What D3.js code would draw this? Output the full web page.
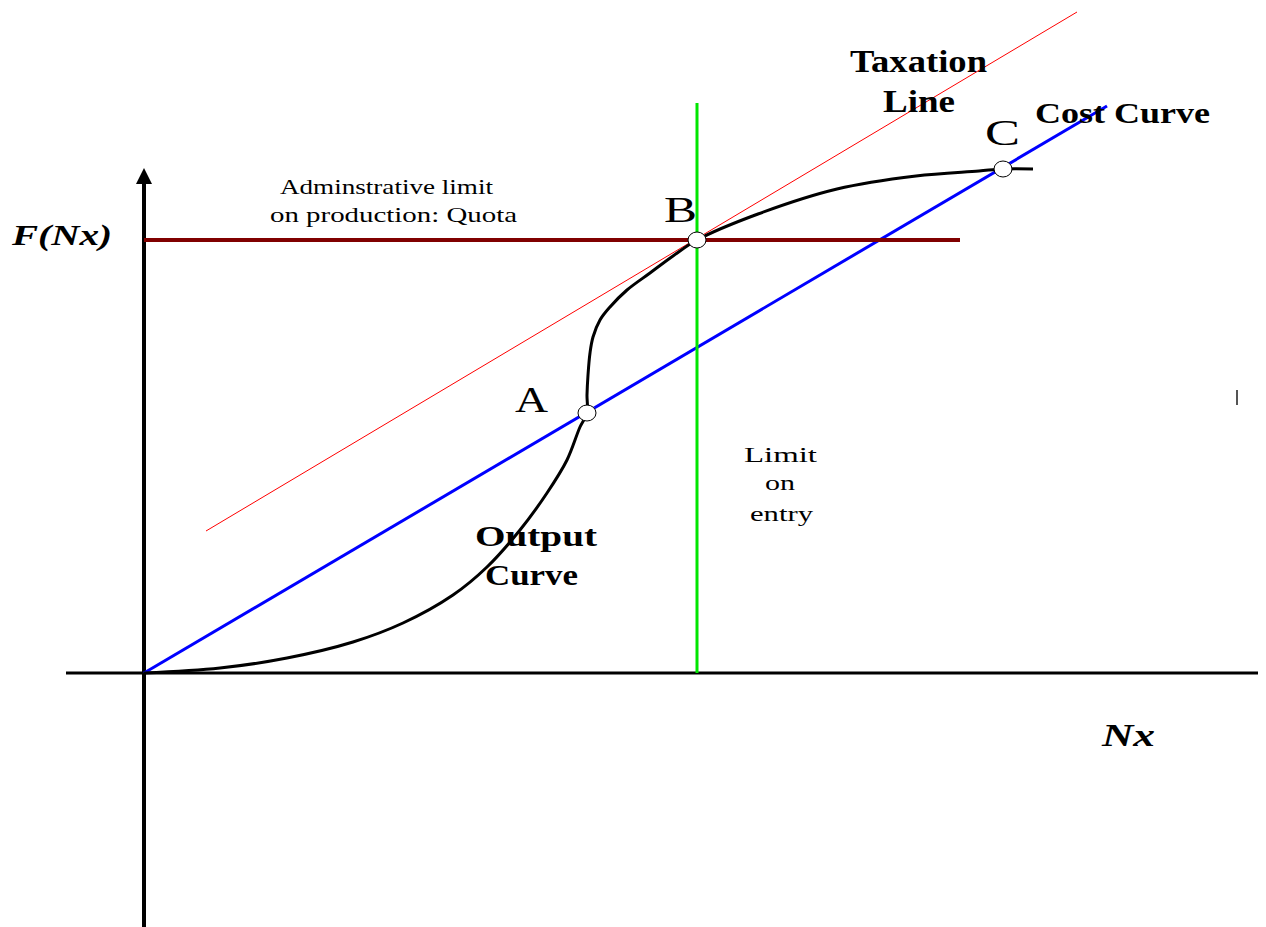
<!DOCTYPE html>
<html>
<head>
<meta charset="utf-8">
<script src="https://cdn.jsdelivr.net/npm/d3@7"></script>
<style>
  body { margin: 0; background: #fff; }
  svg { display: block; }
  text { font-family: "Liberation Serif", "Times New Roman", serif; fill: #000; }
</style>
</head>
<body>
<div id="chart"></div>
<script>
// diagram units: 1 unit = 100 px, origin at the axes crossing
const outputCurve = [
  [0, 0], [0.76, 0.05], [1.43, 0.15], [2.09, 0.31], [2.59, 0.50], [3.09, 0.78],
  [3.43, 1.06], [3.76, 1.43], [4.03, 1.80], [4.23, 2.13], [4.36, 2.46], [4.43, 2.60],
  [4.43, 2.78], [4.44, 2.98], [4.46, 3.20], [4.49, 3.36], [4.56, 3.53], [4.66, 3.66],
  [4.83, 3.83], [5.06, 4.00], [5.29, 4.17], [5.53, 4.33], [6.14, 4.59], [6.93, 4.84],
  [7.72, 4.97], [8.35, 5.02], [8.59, 5.04], [8.89, 5.04]
];
const costLine = [[0, 0], [9.63, 5.67]];
const taxLine = [[0.62, 1.42], [9.33, 6.61]];
const quotaLine = [[0, 4.33], [8.16, 4.33]];
const entryLine = [[5.53, 0], [5.53, 5.70]];
const points = [
  { name: 'A', x: 4.43, y: 2.60 },
  { name: 'B', x: 5.53, y: 4.33 },
  { name: 'C', x: 8.59, y: 5.04 }
];

const width = 1266, height = 927;

const x = d3.scaleLinear().domain([0, 11]).range([144, 1244]);
const y = d3.scaleLinear().domain([0, 6]).range([673, 73]);

const svg = d3.select('#chart').append('svg')
  .attr('width', width)
  .attr('height', height);

const line = d3.line().x(d => x(d[0])).y(d => y(d[1]));

// axes
svg.append('line')
  .attr('x1', x(-0.78)).attr('y1', y(0))
  .attr('x2', x(11.14)).attr('y2', y(0))
  .style('stroke', '#000').style('stroke-width', 3);

svg.append('line')
  .attr('x1', x(0)).attr('y1', 927)
  .attr('x2', x(0)).attr('y2', 182)
  .style('stroke', '#000').style('stroke-width', 4);

svg.append('path')
  .attr('d', `M${x(0) - 8},184 L${x(0)},168 L${x(0) + 8},184 Z`)
  .style('fill', '#000');

// taxation line
svg.append('path').attr('d', line(taxLine))
  .style('stroke', '#ff0000').style('stroke-width', 1).style('fill', 'none');

// cost curve
svg.append('path').attr('d', line(costLine))
  .style('stroke', '#0000ff').style('stroke-width', 3).style('fill', 'none');

// quota
svg.append('path').attr('d', line(quotaLine))
  .style('stroke', '#800000').style('stroke-width', 4).style('fill', 'none');

// limit on entry
svg.append('path').attr('d', line(entryLine))
  .style('stroke', '#00e600').style('stroke-width', 3).style('fill', 'none');

// output curve
svg.append('path')
  .attr('d', d3.line().x(d => x(d[0])).y(d => y(d[1])).curve(d3.curveCatmullRom.alpha(0.5))(outputCurve))
  .style('stroke', '#000').style('stroke-width', 3).style('fill', 'none');

// equilibrium points
svg.selectAll('ellipse.pt').data(points).enter()
  .append('ellipse')
  .attr('class', 'pt')
  .attr('cx', d => x(d.x)).attr('cy', d => y(d.y))
  .attr('rx', 9).attr('ry', 8)
  .style('fill', '#fff').style('stroke', '#000').style('stroke-width', 1);

// small stray tick on the right
svg.append('line')
  .attr('x1', 1237).attr('y1', 390).attr('x2', 1237).attr('y2', 405)
  .style('stroke', '#555').style('stroke-width', 2);

// labels (the original is stretched sideways, so widths are set explicitly)
function label(txt, left, py, size, len, opts) {
  opts = opts || {};
  return svg.append('text')
    .attr('x', left).attr('y', py)
    .attr('textLength', len)
    .attr('lengthAdjust', 'spacingAndGlyphs')
    .style('font-size', size + 'px')
    .style('font-weight', opts.bold ? 'bold' : 'normal')
    .style('font-style', opts.italic ? 'italic' : 'normal')
    .text(txt);
}

label('F(Nx)', 12, 245, 30, 100, { bold: true, italic: true });
label('Adminstrative limit', 280, 194, 21, 213);
label('on production: Quota', 270, 222, 21, 247);
label('A', 515, 412, 36, 33);
label('B', 664, 222, 36, 33);
label('C', 985, 145, 36, 35);
label('Taxation', 850, 72, 31, 137, { bold: true });
label('Line', 883, 112, 31, 72, { bold: true });
label('Cost Curve', 1035, 123, 30, 175, { bold: true });
label('Limit', 744, 462, 22, 73);
label('on', 765, 490, 22, 30);
label('entry', 750, 521, 22, 63);
label('Output', 475, 546, 30, 122, { bold: true });
label('Curve', 485, 585, 30, 93, { bold: true });
label('Nx', 1102, 746, 31, 53, { bold: true, italic: true });
</script>
</body>
</html>
